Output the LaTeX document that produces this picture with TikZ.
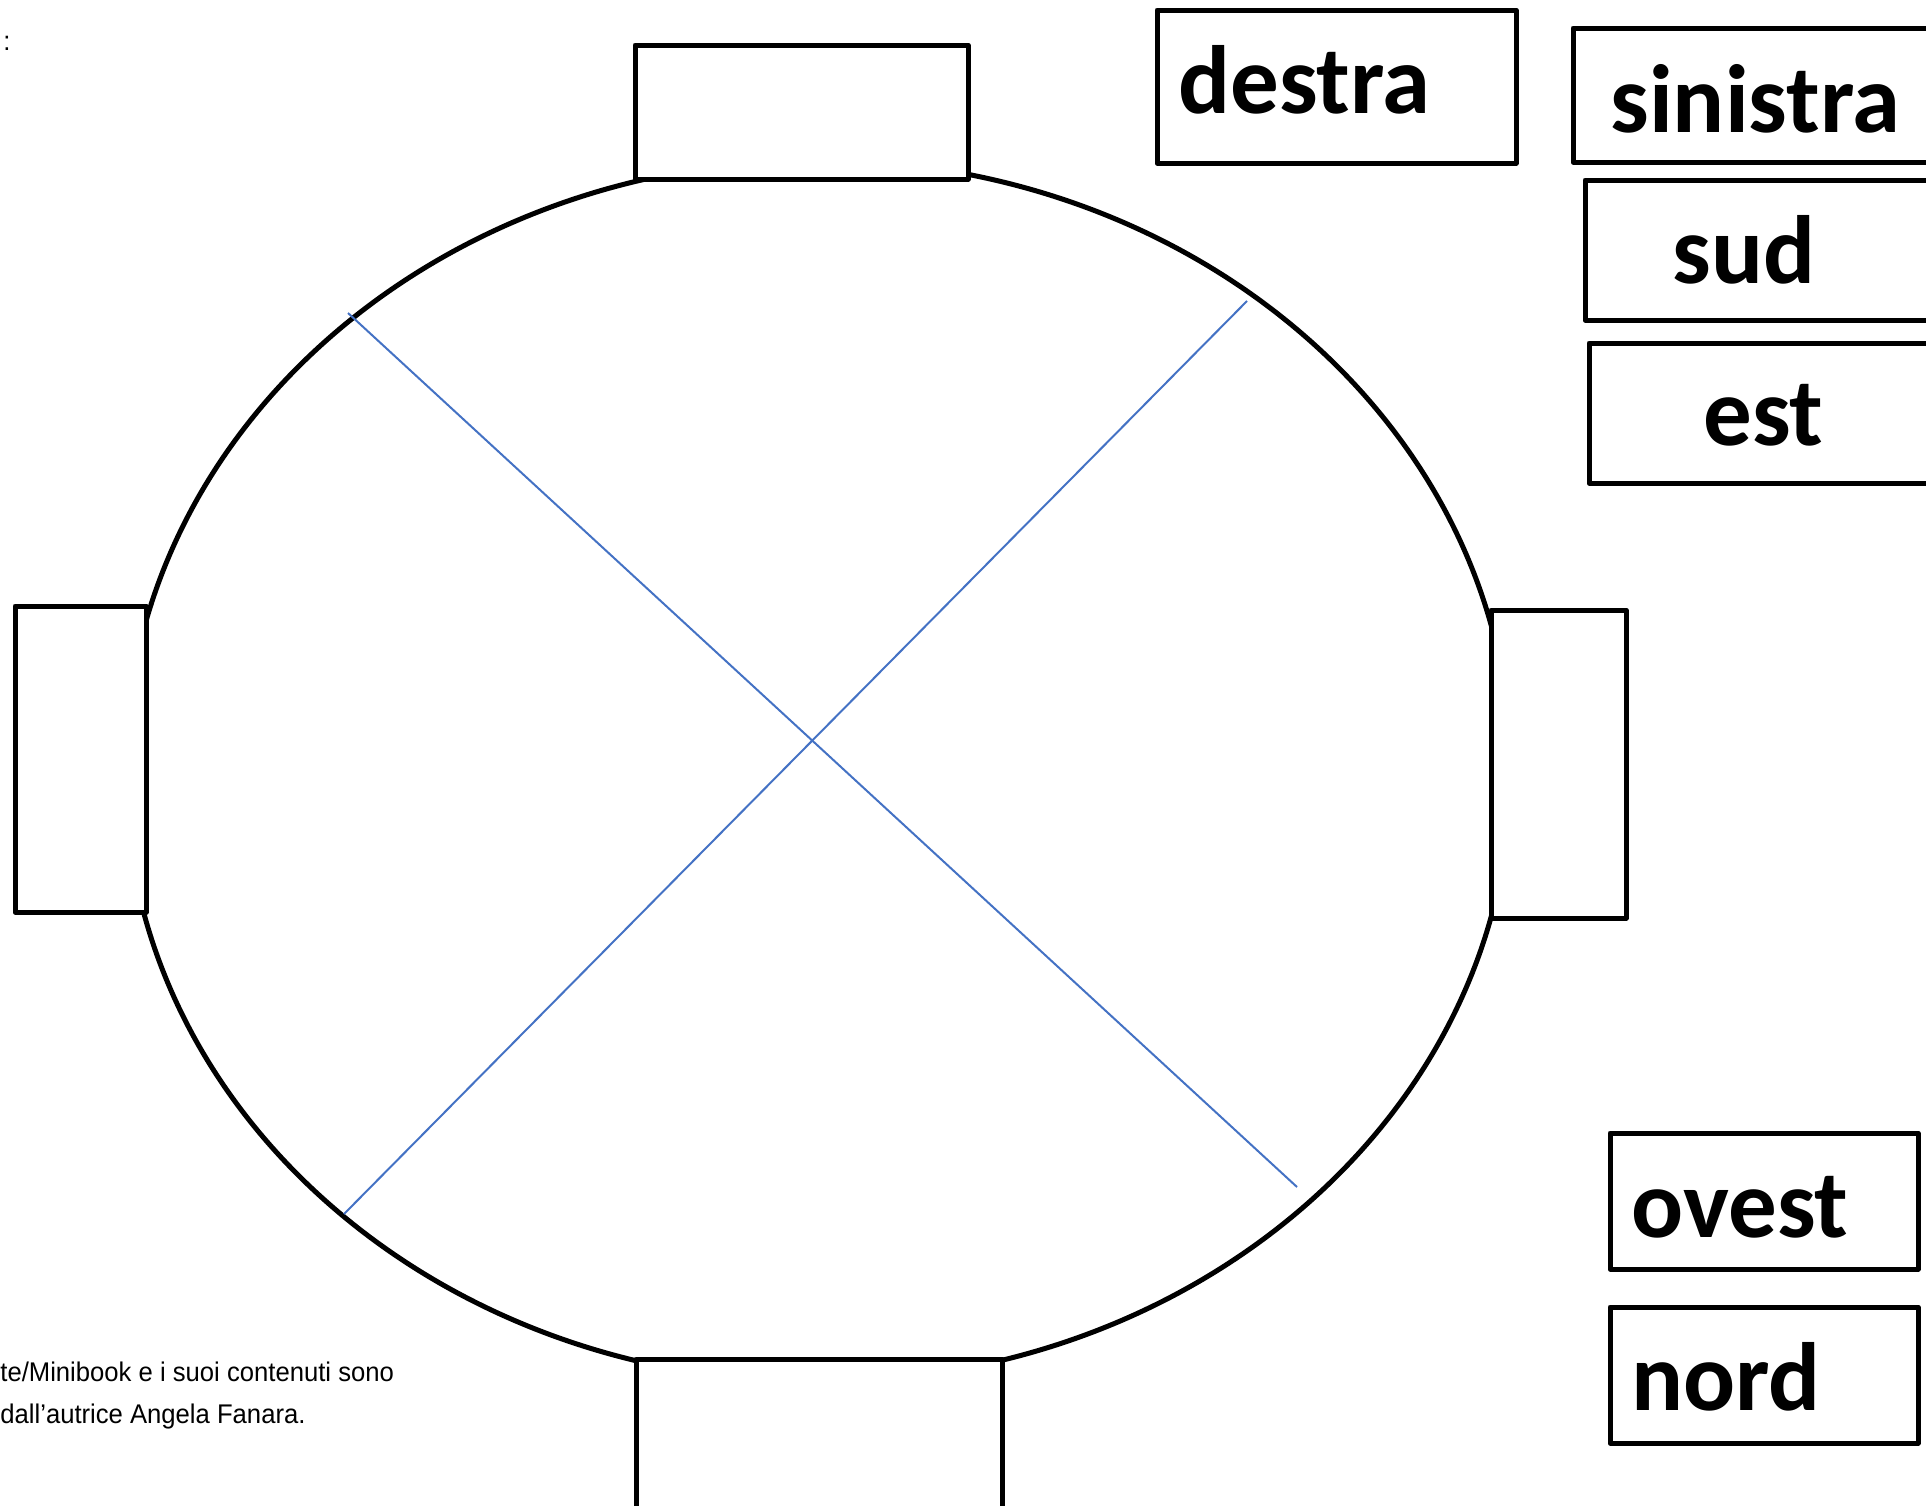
\documentclass[tikz,border=0pt]{standalone}
\usepackage{fontspec}
\newfontfamily\wordfont{Carlito}
\newfontfamily\notefont[FakeStretch=0.95]{Liberation Sans}
\definecolor{lineblue}{HTML}{4472C4}
\begin{document}
\begin{tikzpicture}[x=0.5pt,y=-0.5pt,
	cell/.style={line width=2.5pt,line join=round,fill=white},
	word/.style={anchor=base west,inner sep=0pt,font=\wordfont\bfseries\fontsize{48.5}{58}\selectfont},
	note/.style={anchor=base west,inner sep=0pt,font=\notefont\fontsize{13.5}{16}\selectfont}]
		\useasboundingbox (0,0) rectangle (1926,1505);
		\clip (0,0) rectangle (1926,1505);
		\draw[line width=2.5pt] (818,771) ellipse [x radius=346.5pt,y radius=305.5pt];
		\draw[lineblue,line width=1pt] (348,313) -- (1297,1187);
		\draw[lineblue,line width=1pt] (1247,301) -- (344,1214);
		\draw[cell] (635,45) rectangle (968,179);
		\draw[cell] (15,606) rectangle (146,912);
		\draw[cell] (1491,610) rectangle (1626,918);
		\draw[cell] (636,1359) rectangle (1002,1540);
		\draw[cell] (1157,10) rectangle (1516,163);
		\draw[cell] (1573,28) rectangle (1960,162);
		\draw[cell] (1585,180) rectangle (1960,320);
		\draw[cell] (1589,343) rectangle (1960,483);
		\draw[cell] (1610,1133) rectangle (1918,1269);
		\draw[cell] (1610,1307) rectangle (1918,1443);
		\node[word] (destra) at (1178,113) {destra};
		\node[word] (sinistra) at (1610,132) {sinistra};
		\node[word] (sud) at (1672,283) {sud};
		\node[word] (est) at (1703,445) {est};
		\node[word] (ovest) at (1631,1237) {ovest};
		\node[word] (nord) at (1631,1410) {nord};
		\node[note] (colon) at (3,50) {:};
		\node[note] (note1) at (0,1381) {te/Minibook e i suoi contenuti sono};
		\node[note] (note2) at (0,1423) {dall’autrice Angela Fanara.};
		\end{tikzpicture}
\end{document}
